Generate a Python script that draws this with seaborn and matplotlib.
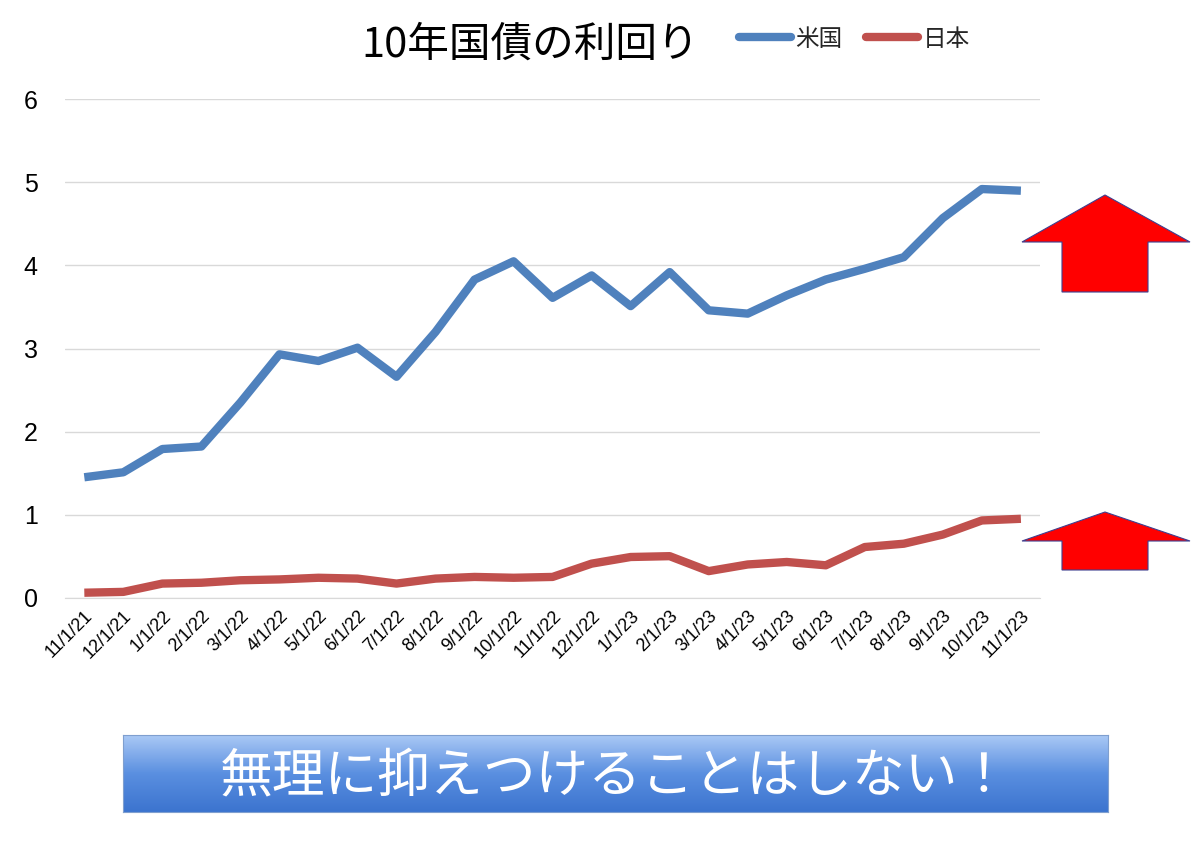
import numpy as np
import pandas as pd
import seaborn as sns
import matplotlib.pyplot as plt
from matplotlib.patches import Polygon
from matplotlib.colors import LinearSegmentedColormap

dates = ["11/1/21", "12/1/21", "1/1/22", "2/1/22", "3/1/22", "4/1/22", "5/1/22", "6/1/22",
         "7/1/22", "8/1/22", "9/1/22", "10/1/22", "11/1/22", "12/1/22", "1/1/23", "2/1/23",
         "3/1/23", "4/1/23", "5/1/23", "6/1/23", "7/1/23", "8/1/23", "9/1/23", "10/1/23", "11/1/23"]
us = [1.45, 1.51, 1.79, 1.82, 2.35, 2.93, 2.85, 3.01, 2.66, 3.20, 3.83, 4.05, 3.61,
      3.88, 3.51, 3.92, 3.46, 3.42, 3.64, 3.83, 3.96, 4.10, 4.57, 4.92, 4.90]
jp = [0.06, 0.07, 0.17, 0.18, 0.21, 0.22, 0.24, 0.23, 0.17, 0.23, 0.25, 0.24, 0.25,
      0.41, 0.49, 0.50, 0.32, 0.40, 0.43, 0.39, 0.61, 0.65, 0.76, 0.93, 0.95]

sns.set_style("white")
plt.rcParams['font.family'] = ['Noto Sans CJK JP', 'DejaVu Sans']

df = pd.DataFrame({"x": list(range(len(dates))) * 2,
                   "y": us + jp,
                   "国": ["米国"] * len(us) + ["日本"] * len(jp)})

fig = plt.figure(figsize=(12, 8.49), dpi=100)
ax = fig.add_axes([0.054, 0.296, 0.813, 0.587])
sns.lineplot(data=df, x="x", y="y", hue="国", palette={"米国": "#4f81bd", "日本": "#c0504d"},
             linewidth=6, ax=ax, legend=False, solid_capstyle="butt")
ax.set_xlim(-0.5, len(dates) - 0.5)
ax.set_ylim(0, 6)
ax.set_yticks(range(7))
ax.yaxis.grid(True, color="#d9d9d9", linewidth=1)
ax.set_xticks(range(len(dates)))
ax.set_xticklabels(dates, rotation=45, ha="right", rotation_mode="anchor", fontsize=13,
                   family=['Liberation Sans', 'DejaVu Sans'], color="black")
ax.tick_params(axis="y", labelsize=18, pad=16, labelcolor="black")
for l in ax.get_yticklabels():
    l.set_family(['Liberation Sans', 'DejaVu Sans'])
ax.set_xlabel("")
ax.set_ylabel("")
for s in ["top", "right", "left"]:
    ax.spines[s].set_visible(False)
ax.spines["bottom"].set_color("#d9d9d9")

fig.text(0.442, 0.947, "10年国債の利回り", ha="center", va="center", fontsize=30, color="black")
fig.legend(handles=[plt.Line2D([], [], color="#4f81bd", lw=6), plt.Line2D([], [], color="#c0504d", lw=6)],
           labels=["米国", "日本"], ncol=2, frameon=False, fontsize=17, loc="center",
           bbox_to_anchor=(0.712, 0.954), handlelength=2.2, columnspacing=1.0, handletextpad=0.2)

W, H = 1200, 849
def arrow(tip_y, base_y, bottom_y):
    pts = [(1105, tip_y), (1190, base_y), (1148, base_y), (1148, bottom_y),
           (1062, bottom_y), (1062, base_y), (1022, base_y)]
    pts = [(x / W, 1 - y / H) for x, y in pts]
    fig.patches.append(Polygon(pts, closed=True, transform=fig.transFigure,
                               facecolor="#ff0000", edgecolor="#3f3f8f", linewidth=0.8))
arrow(195, 242, 292)
arrow(512, 541, 570)

bx = fig.add_axes([123 / W, 1 - 812 / H, (1108 - 123) / W, 77 / H])
grad = np.linspace(0, 1, 100).reshape(-1, 1)
cmap = LinearSegmentedColormap.from_list("b", ["#a9c8f5", "#5a8fe0", "#3c74cf"])
bx.imshow(grad, aspect="auto", cmap=cmap, extent=[0, 1, 0, 1])
bx.set_xticks([]); bx.set_yticks([])
for s in bx.spines.values():
    s.set_color("#7f9fcf")
bx.text(0.5, 0.47, "無理に抑えつけることはしない！", color="white", fontsize=38,
        ha="center", va="center", transform=bx.transAxes)

fig.savefig("out.png", dpi=100)
